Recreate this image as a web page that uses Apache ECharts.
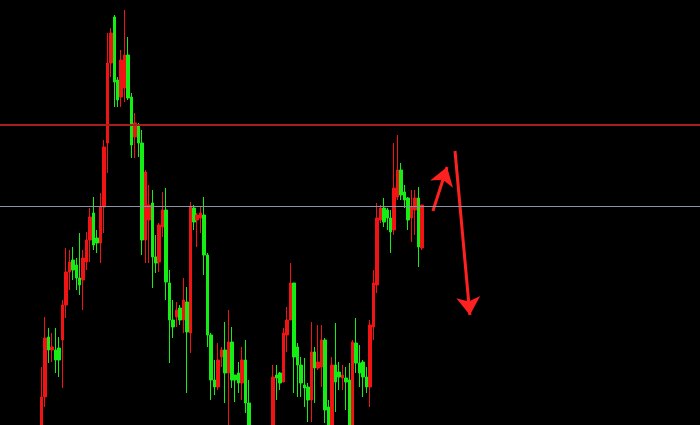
<!DOCTYPE html>
<html>
<head>
<meta charset="utf-8">
<script src="https://cdn.jsdelivr.net/npm/echarts@6/dist/echarts.min.js"></script>
<style>
html,body{margin:0;padding:0;background:#000;}
#chart{width:700px;height:425px;}
</style>
</head>
<body>
<div id="chart"></div>
<script>
// Candle values (arbitrary price units)
const openVals  = [-5,28,88,75,75,77,85,120,153,165,160,147,145,163,185,212,187,182,218,282,362,408,345,328,337,370,328,288,300,282,185,205,222,168,163,198,215,142,105,108,117,105,123,92,217,205,207,210,170,90,45,38,68,75,52,83,50,52,42,65,22,-10,-45,-22,-48,-25,-13,-15,50,52,43,90,105,142,78,60,40,38,25,73,57,58,85,18,-10,60,53,47,47,45,-5,82,62,63,48,38,98,140,205,217,215,207,195,228,255,233,227,207,215,227,177];
const closeVals = [28,87,75,78,65,65,120,153,163,155,147,140,167,185,208,180,182,218,278,362,392,343,325,365,370,327,280,302,282,185,253,220,168,162,200,215,143,105,98,115,105,125,93,218,203,210,212,170,90,45,38,65,75,52,83,45,45,42,65,22,-15,-40,-25,-50,-20,-12,-20,48,47,42,92,105,142,68,60,42,37,25,73,57,63,85,15,-5,60,43,48,50,43,-5,83,62,52,48,38,100,142,207,217,203,207,193,237,255,230,225,205,218,227,178,220];
const lowVals   = [-15,18,62,63,52,48,37,107,135,145,135,130,115,155,163,175,172,162,192,252,348,318,318,318,323,325,267,267,268,170,162,162,137,152,153,188,125,62,87,98,100,92,32,72,195,178,192,150,78,25,30,35,58,22,-5,37,23,32,25,12,-25,-50,-55,-60,-55,-35,-35,-25,25,35,43,73,105,32,28,28,18,3,3,22,55,38,2,-15,-15,13,35,35,15,-15,-15,52,38,28,32,18,85,132,202,198,195,172,190,225,225,217,195,183,190,158,175];
const highVals  = [58,108,97,92,97,88,125,177,175,178,167,192,175,193,217,228,195,232,285,392,397,410,348,375,415,388,332,312,302,295,255,240,235,190,202,233,237,155,125,123,120,147,138,223,220,212,218,228,172,92,65,82,78,103,115,98,50,63,78,85,45,-3,-10,-8,-5,-3,-2,60,60,53,97,118,162,142,82,68,67,42,103,78,100,100,87,25,68,102,63,60,58,62,85,107,80,65,58,105,155,222,220,227,217,215,282,290,262,240,228,235,235,238,220];
const categories = openVals.map((_, i) => 'K' + (i + 1));

// Horizontal reference levels
const resistanceLevel = 300.5;
const supportLevel = 219;

// Hand-drawn arrows, in [candle index, price]
const arrowUp = [[113.2, 214], [117.3, 258]];
const arrowDown = [[119.6, 274], [123.9, 110]];

const candleData = openVals.map((o, i) => [o, closeVals[i], lowVals[i], highVals[i]]);

const chart = echarts.init(document.getElementById('chart'));
const bandW = 3.4555;
chart.setOption({
  backgroundColor: '#000000',
  animation: false,
  grid: [
    { left: 40, right: 700 - 40 - bandW * categories.length, top: 0, bottom: 0 },
    { left: 0, right: 0, top: 0, bottom: 0 }
  ],
  xAxis: [
    { type: 'category', data: categories, gridIndex: 0, show: false, boundaryGap: true },
    { type: 'value', gridIndex: 1, show: false, min: -40 / bandW - 0.5, max: (700 - 40) / bandW - 0.5 }
  ],
  yAxis: [
    { type: 'value', gridIndex: 0, show: false, min: 0, max: 425, splitLine: { show: false } },
    { type: 'value', gridIndex: 1, show: false, min: 0, max: 425, splitLine: { show: false } }
  ],
  series: [
    {
      type: 'line',
      xAxisIndex: 1, yAxisIndex: 1,
      data: [],
      silent: true,
      markLine: {
        silent: true,
        symbol: ['none', 'none'],
        label: { show: false },
        data: [
          { yAxis: resistanceLevel, lineStyle: { color: '#a81e1e', width: 2, type: 'solid' } },
          { yAxis: supportLevel, lineStyle: { color: '#8a94a6', width: 1, type: 'solid' } }
        ]
      }
    },
    {
      type: 'candlestick',
      xAxisIndex: 0, yAxisIndex: 0,
      data: candleData,
      barWidth: 3,
      clip: true,
      itemStyle: {
        color: '#f01414', color0: '#14ee14',
        borderColor: '#f01414', borderColor0: '#14ee14',
        borderWidth: 1
      }
    },
    {
      type: 'lines',
      coordinateSystem: 'cartesian2d',
      xAxisIndex: 1, yAxisIndex: 1,
      symbol: ['none', 'arrow'],
      symbolSize: [10, 18],
      lineStyle: { color: '#ff2020', width: 3, opacity: 1, curveness: 0 },
      data: [{ coords: arrowUp }, { coords: arrowDown }]
    }
  ]
});
</script>
</body>
</html>
